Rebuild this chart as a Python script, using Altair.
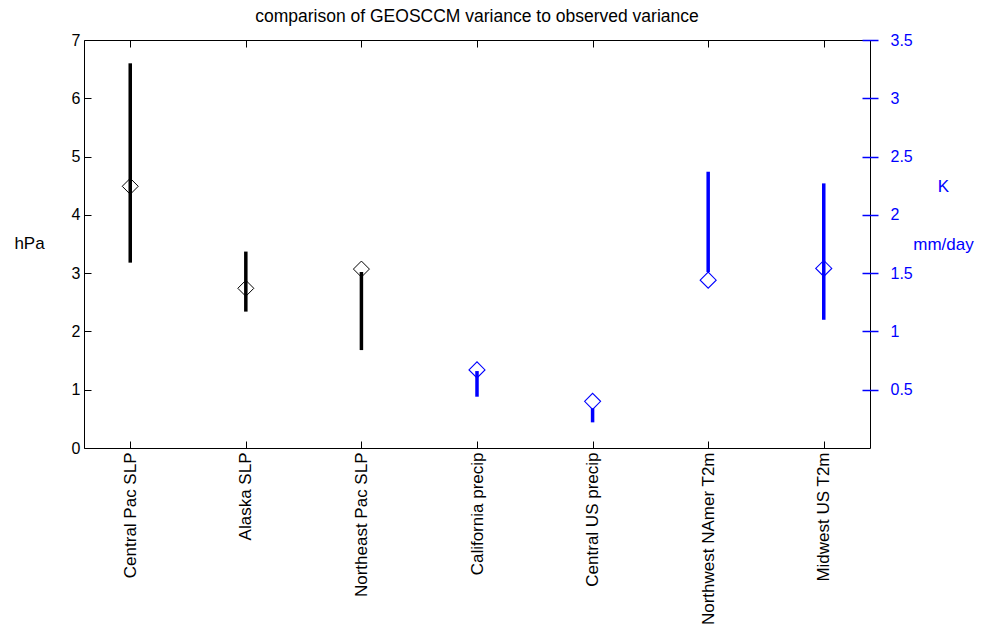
import altair as alt
import pandas as pd

categories = ["Central Pac SLP", "Alaska SLP", "Northeast Pac SLP", "California precip",
              "Central US precip", "Northwest NAmer T2m", "Midwest US T2m"]

# left axis (hPa) series
slp_names = ["Central Pac SLP", "Alaska SLP", "Northeast Pac SLP"]
slp_low = [3.18, 2.34, 1.68]
slp_high = [6.60, 3.37, 3.02]
slp_model = [4.49, 2.74, 3.07]

# right axis (mm/day, K) series
r_names = ["California precip", "Central US precip", "Northwest NAmer T2m", "Midwest US T2m"]
r_low = [0.44, 0.22, 1.51, 1.10]
r_high = [0.66, 0.34, 2.37, 2.27]
r_model = [0.67, 0.40, 1.44, 1.54]

left_ticks = [0, 1, 2, 3, 4, 5, 6, 7]
right_ticks = [0.5, 1, 1.5, 2, 2.5, 3, 3.5]

df_l = pd.DataFrame({"cat": slp_names, "lo": slp_low, "hi": slp_high, "mid": slp_model})
df_r = pd.DataFrame({"cat": r_names, "lo": r_low, "hi": r_high, "mid": r_model})

FONT = "Liberation Sans"
BLUE = "#0000ff"

xscale = alt.Scale(type="point", domain=categories, padding=0.4)
yl = alt.Scale(domain=[0, 7], nice=False, zero=False)
yr = alt.Scale(domain=[0, 3.5], nice=False, zero=False)

ax_bottom = alt.Axis(orient="bottom", offset=-7, tickSize=7, domain=False,
                     labelAngle=270, labelAlign="right", labelBaseline="middle",
                     labelPadding=4, labelFontSize=17, labelFont=FONT,
                     labelColor="black", tickColor="black", grid=False, title=None)
ax_top = alt.Axis(orient="top", offset=-7, tickSize=7, domain=False,
                  labels=False, tickColor="black", grid=False, title=None)
ax_left = alt.Axis(orient="left", offset=-7, tickSize=7, domain=False,
                   values=left_ticks, labelPadding=4, labelFontSize=16,
                   labelFont=FONT, labelColor="black", tickColor="black",
                   grid=False, title="hPa", titleAngle=0, titleFont=FONT,
                   titleFontSize=17, titleFontWeight="normal", titleColor="black",
                   titleAlign="center", titleBaseline="middle",
                   titleX=-62, titleY=203)
ax_right = alt.Axis(orient="right", offset=-8, tickSize=16, domain=False,
                    values=right_ticks, format="~g", labelPadding=12,
                    labelFontSize=16, labelFont=FONT, labelColor=BLUE,
                    tickColor=BLUE, tickWidth=1.5, grid=False,
                    title=["K", "mm/day"], titleAngle=0, titleFont=FONT,
                    titleFontSize=17, titleFontWeight="normal", titleColor=BLUE,
                    titleAlign="center", titleBaseline="middle",
                    titleLineHeight=58, titleX=81, titleY=146)

left_rule = alt.Chart(df_l).mark_rule(color="black", strokeWidth=3.5).encode(
    x=alt.X("cat:N", scale=xscale, sort=None, axis=ax_bottom),
    y=alt.Y("lo:Q", scale=yl, axis=ax_left),
    y2="hi:Q",
)
left_pts = alt.Chart(df_l).mark_point(shape="diamond", filled=False, color="black",
                                      stroke="black", size=256, strokeWidth=1,
                                      opacity=1).encode(
    x=alt.X("cat:N", scale=xscale, sort=None, axis=ax_bottom),
    y=alt.Y("mid:Q", scale=yl, axis=ax_left),
)

right_rule = alt.Chart(df_r).mark_rule(color=BLUE, strokeWidth=3.5).encode(
    x=alt.X("cat:N", scale=xscale, sort=None, axis=ax_top),
    y=alt.Y("lo:Q", scale=yr, axis=ax_right),
    y2="hi:Q",
)
right_pts = alt.Chart(df_r).mark_point(shape="diamond", filled=False, color=BLUE,
                                       stroke=BLUE, size=256, strokeWidth=1.1,
                                       opacity=1).encode(
    x=alt.X("cat:N", scale=xscale, sort=None, axis=ax_top),
    y=alt.Y("mid:Q", scale=yr, axis=ax_right),
)

left_layer = alt.layer(left_rule, left_pts)
right_layer = alt.layer(right_rule, right_pts)

chart = alt.layer(left_layer, right_layer).resolve_scale(
    y="independent"
).resolve_axis(
    x="independent", y="independent"
).properties(
    width=786, height=408,
    title=alt.TitleParams("comparison of GEOSCCM variance to observed variance",
                          font=FONT, fontSize=17.5, fontWeight="normal", color="black",
                          anchor="middle", offset=7),
    padding={"left": 84, "top": 40, "right": 117, "bottom": 183},
    autosize=alt.AutoSizeParams(type="none"),
    background="white",
).configure_view(stroke="black", strokeWidth=1)

chart.save("out.html", embed_options={"renderer": "svg", "actions": False})
